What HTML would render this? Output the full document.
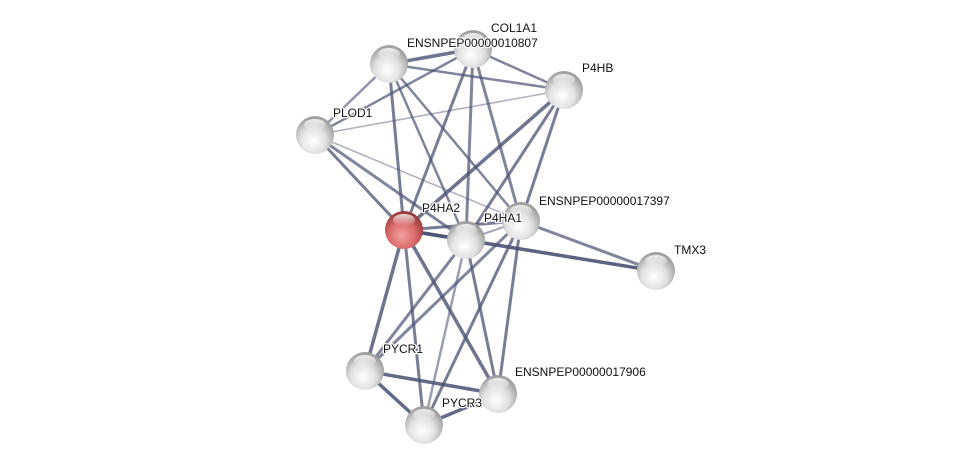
<!DOCTYPE html>
<html><head><meta charset="utf-8"><style>
html,body{margin:0;padding:0;background:#fff;}
svg{display:block;}
text{font-family:"Liberation Sans",sans-serif;font-size:12px;fill:#111;stroke:#fff;stroke-width:2.5px;paint-order:stroke;stroke-linejoin:round;}
</style></head><body>
<svg width="975" height="470" viewBox="0 0 975 470" xmlns="http://www.w3.org/2000/svg">
<defs>
<radialGradient id="g" cx="0.45" cy="0.65" r="0.6">
<stop offset="0" stop-color="#ffffff"/><stop offset="0.55" stop-color="#e2e2e2"/><stop offset="1" stop-color="#a0a0a0"/>
</radialGradient>
<radialGradient id="r" cx="0.45" cy="0.65" r="0.6">
<stop offset="0" stop-color="#f4a0a0"/><stop offset="0.6" stop-color="#d86a6a"/><stop offset="1" stop-color="#9c3c3c"/>
</radialGradient>
<linearGradient id="hl" x1="0" y1="0" x2="0" y2="1">
<stop offset="0" stop-color="#fff" stop-opacity="0.8"/><stop offset="1" stop-color="#fff" stop-opacity="0"/>
</linearGradient>
</defs>
<g stroke="#4a5275" stroke-linecap="round">
<line x1="389" y1="64" x2="473" y2="49" stroke-width="3.5" opacity="0.8"/>
<line x1="389" y1="64" x2="564" y2="90" stroke-width="2.5" opacity="0.7"/>
<line x1="389" y1="64" x2="315" y2="135" stroke-width="2.5" opacity="0.6"/>
<line x1="389" y1="64" x2="404" y2="230" stroke-width="3" opacity="0.75"/>
<line x1="389" y1="64" x2="466" y2="240" stroke-width="2.5" opacity="0.7"/>
<line x1="389" y1="64" x2="521" y2="221" stroke-width="2.5" opacity="0.7"/>
<line x1="473" y1="49" x2="564" y2="90" stroke-width="2.5" opacity="0.7"/>
<line x1="473" y1="49" x2="315" y2="135" stroke-width="2.5" opacity="0.7"/>
<line x1="473" y1="49" x2="404" y2="230" stroke-width="3" opacity="0.75"/>
<line x1="473" y1="49" x2="466" y2="240" stroke-width="3" opacity="0.7"/>
<line x1="473" y1="49" x2="521" y2="221" stroke-width="3" opacity="0.7"/>
<line x1="564" y1="90" x2="315" y2="135" stroke-width="1.5" opacity="0.45"/>
<line x1="564" y1="90" x2="404" y2="230" stroke-width="3.5" opacity="0.8"/>
<line x1="564" y1="90" x2="466" y2="240" stroke-width="3" opacity="0.75"/>
<line x1="564" y1="90" x2="521" y2="221" stroke-width="3" opacity="0.75"/>
<line x1="315" y1="135" x2="404" y2="230" stroke-width="3" opacity="0.75"/>
<line x1="315" y1="135" x2="466" y2="240" stroke-width="3" opacity="0.7"/>
<line x1="315" y1="135" x2="521" y2="221" stroke-width="1.5" opacity="0.45"/>
<line x1="404" y1="230" x2="466" y2="240" stroke-width="3.5" opacity="0.85"/>
<line x1="404" y1="230" x2="521" y2="221" stroke-width="3" opacity="0.75"/>
<line x1="404" y1="230" x2="656" y2="271" stroke-width="3.5" opacity="0.9"/>
<line x1="521" y1="221" x2="656" y2="271" stroke-width="3" opacity="0.7"/>
<line x1="466" y1="240" x2="521" y2="221" stroke-width="2" opacity="0.5"/>
<line x1="404" y1="230" x2="365" y2="371" stroke-width="3.5" opacity="0.8"/>
<line x1="404" y1="230" x2="424" y2="425" stroke-width="3" opacity="0.75"/>
<line x1="404" y1="230" x2="498" y2="394" stroke-width="3.5" opacity="0.8"/>
<line x1="466" y1="240" x2="365" y2="371" stroke-width="3" opacity="0.7"/>
<line x1="466" y1="240" x2="424" y2="425" stroke-width="2.5" opacity="0.55"/>
<line x1="466" y1="240" x2="498" y2="394" stroke-width="3" opacity="0.75"/>
<line x1="521" y1="221" x2="365" y2="371" stroke-width="3" opacity="0.7"/>
<line x1="521" y1="221" x2="424" y2="425" stroke-width="3" opacity="0.75"/>
<line x1="521" y1="221" x2="498" y2="394" stroke-width="3" opacity="0.75"/>
<line x1="365" y1="371" x2="498" y2="394" stroke-width="3.5" opacity="0.85"/>
<line x1="365" y1="371" x2="424" y2="425" stroke-width="3.5" opacity="0.85"/>
<line x1="424" y1="425" x2="498" y2="394" stroke-width="3.5" opacity="0.85"/>
</g>
<g>
<g transform="translate(389,64)"><circle r="19" fill="url(#g)"/><ellipse cx="0" cy="-10" rx="11" ry="6" fill="url(#hl)"/></g>
<g transform="translate(473,49)"><circle r="19" fill="url(#g)"/><ellipse cx="0" cy="-10" rx="11" ry="6" fill="url(#hl)"/></g>
<g transform="translate(564,90)"><circle r="19" fill="url(#g)"/><ellipse cx="0" cy="-10" rx="11" ry="6" fill="url(#hl)"/></g>
<g transform="translate(315,135)"><circle r="19" fill="url(#g)"/><ellipse cx="0" cy="-10" rx="11" ry="6" fill="url(#hl)"/></g>
<g transform="translate(521,221)"><circle r="19" fill="url(#g)"/><ellipse cx="0" cy="-10" rx="11" ry="6" fill="url(#hl)"/></g>
<g transform="translate(466,240)"><circle r="19" fill="url(#g)"/><ellipse cx="0" cy="-10" rx="11" ry="6" fill="url(#hl)"/></g>
<g transform="translate(404,230)"><circle r="19" fill="url(#r)"/><ellipse cx="0" cy="-10" rx="11" ry="6" fill="url(#hl)"/></g>
<g transform="translate(656,271)"><circle r="19" fill="url(#g)"/><ellipse cx="0" cy="-10" rx="11" ry="6" fill="url(#hl)"/></g>
<g transform="translate(365,371)"><circle r="19" fill="url(#g)"/><ellipse cx="0" cy="-10" rx="11" ry="6" fill="url(#hl)"/></g>
<g transform="translate(498,394)"><circle r="19" fill="url(#g)"/><ellipse cx="0" cy="-10" rx="11" ry="6" fill="url(#hl)"/></g>
<g transform="translate(424,425)"><circle r="19" fill="url(#g)"/><ellipse cx="0" cy="-10" rx="11" ry="6" fill="url(#hl)"/></g>
</g>
<g>
<text x="491" y="32">COL1A1</text>
<text x="407" y="47">ENSNPEP00000010807</text>
<text x="582" y="72">P4HB</text>
<text x="333" y="117">PLOD1</text>
<text x="422" y="212">P4HA2</text>
<text x="484" y="222">P4HA1</text>
<text x="539" y="205">ENSNPEP00000017397</text>
<text x="674" y="254">TMX3</text>
<text x="383" y="353">PYCR1</text>
<text x="515" y="376">ENSNPEP00000017906</text>
<text x="442" y="407">PYCR3</text>
</g>
</svg>
</body></html>
